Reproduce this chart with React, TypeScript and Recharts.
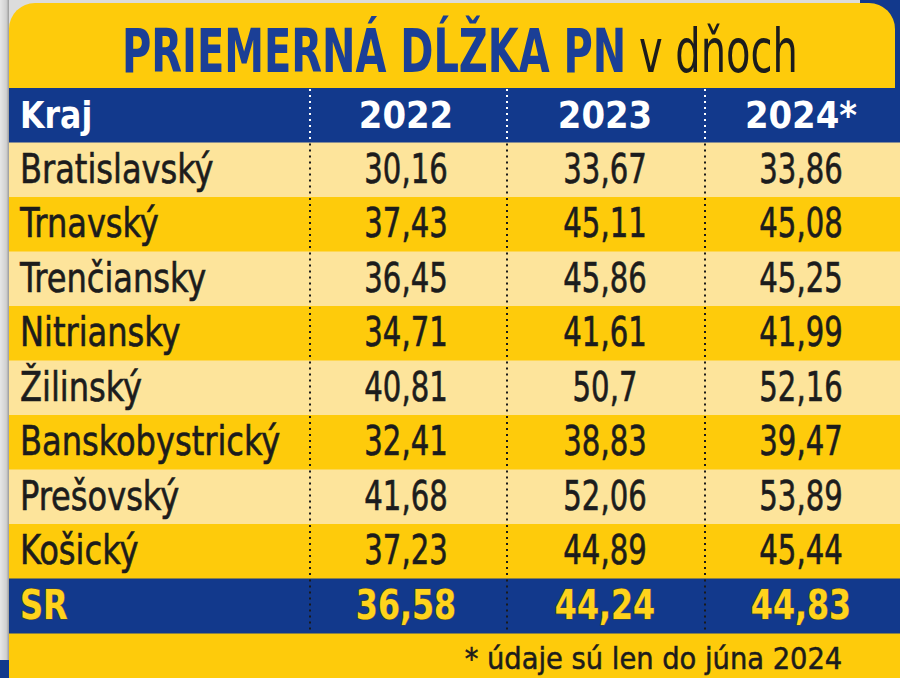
import { BarChart, Bar, XAxis, YAxis } from 'recharts'

const TITLE_BOLD = 'PRIEMERNÁ DĹŽKA PN'
const TITLE_REST = 'v dňoch'
const FOOTNOTE = '* údaje sú len do júna 2024'

const HEADERS = ['Kraj', '2022', '2023', '2024*']
const REGIONS = ['Bratislavský', 'Trnavský', 'Trenčiansky', 'Nitriansky', 'Žilinský', 'Banskobystrický', 'Prešovský', 'Košický', 'SR']
const Y2022 = [30.16, 37.43, 36.45, 34.71, 40.81, 32.41, 41.68, 37.23, 36.58]
const Y2023 = [33.67, 45.11, 45.86, 41.61, 50.7, 38.83, 52.06, 44.89, 44.24]
const Y2024 = [33.86, 45.08, 45.25, 41.99, 52.16, 39.47, 53.89, 45.44, 44.83]

const BLUE = '#12398c'
const YELLOW = '#fecb0b'
const LIGHT = '#fde49b'
const INK = '#1c1c1c'
const FONT = "'DejaVu Sans Condensed', 'Liberation Sans Narrow', Roboto, sans-serif"

const W = 900
const H = 678
const TOP = 88
const BOTTOM = 45
const ROW_H = (H - TOP - BOTTOM) / (REGIONS.length + 1)
const COL_X = [406, 605, 801]
const SEP_X = [310, 507, 705]

// per-row-kind text look: size, weight, horizontal squeeze for the name and the numbers
const LOOK: Record<string, { size: number; weight: number; nameSx: number; numSx: number; fill: string; stroke?: string; sw: number }> = {
  head: { size: 37, weight: 700, nameSx: 0.95, numSx: 1.02, fill: '#ffffff', sw: 0 },
  light: { size: 41, weight: 400, nameSx: 0.87, numSx: 0.79, fill: INK, stroke: INK, sw: 0.6 },
  dark: { size: 41, weight: 400, nameSx: 0.87, numSx: 0.79, fill: INK, stroke: INK, sw: 0.6 },
  total: { size: 41, weight: 700, nameSx: 0.87, numSx: 0.86, fill: '#ffd31c', stroke: '#4a4a2a', sw: 1.2 },
}

const fmt = (v: number) => String(v).replace('.', ',')

const rows = [
  { kraj: HEADERS[0], v2022: 0, cells: HEADERS.slice(1), kind: 'head' },
  ...REGIONS.map((r, i) => ({
    kraj: r,
    v2022: Y2022[i],
    cells: [fmt(Y2022[i]), fmt(Y2023[i]), fmt(Y2024[i])],
    kind: r === 'SR' ? 'total' : i % 2 === 0 ? 'light' : 'dark',
  })),
]

function Txt({ x, y, sx, anchor, children, look }: any) {
  return (
    <text
      transform={`translate(${x},${y}) scale(${sx},1)`}
      textAnchor={anchor}
      fill={look.fill}
      fontWeight={look.weight}
      fontSize={look.size}
      fontFamily={FONT}
      stroke={look.stroke}
      strokeWidth={look.sw}
      paintOrder="stroke"
    >
      {children}
    </text>
  )
}

function RowTick(props: any) {
  const { y, payload } = props
  const row = rows.find((r) => r.kraj === payload.value)
  if (!row) return <g />
  const top = y - ROW_H / 2
  const look = LOOK[row.kind]
  const bg = row.kind === 'head' || row.kind === 'total' ? BLUE : row.kind === 'light' ? LIGHT : YELLOW
  const base = y + 13
  return (
    <g>
      <rect x={9} y={top} width={W - 9} height={ROW_H + 0.5} fill={bg} />
      {SEP_X.map((sx) => (
        <line
          key={sx}
          x1={sx}
          x2={sx}
          y1={top + 1}
          y2={top + ROW_H}
          stroke={row.kind === 'head' ? '#ffffff' : '#1a1a1a'}
          strokeWidth={2}
          strokeDasharray="2 4"
        />
      ))}
      <Txt x={20} y={base} sx={look.nameSx} anchor="start" look={look}>
        {row.kraj}
      </Txt>
      {row.cells.map((c, i) => (
        <Txt key={i} x={COL_X[i]} y={base} sx={look.numSx} anchor="middle" look={look}>
          {c}
        </Txt>
      ))}
    </g>
  )
}

export default function App() {
  return (
    <div style={{ position: 'relative', width: W, height: H, overflow: 'hidden', background: '#dcdcdc' }}>
      <style>{'body{margin:0}'}</style>
      <div style={{ position: 'absolute', left: 0, top: 0, width: 9, height: H, background: 'linear-gradient(90deg, #e6e6e6, #d0d0d0 70%, #9a9a9a)' }} />
      <div style={{ position: 'absolute', left: 0, top: 660, width: 9, height: 18, background: BLUE }} />
      <div style={{ position: 'absolute', right: 0, top: 0, width: 40, height: 92, background: BLUE }} />
      <div style={{ position: 'absolute', left: 9, top: 3, width: 886, height: 200, background: YELLOW, borderRadius: '26px 26px 0 0' }} />
      <div style={{ position: 'absolute', left: 9, top: 150, width: W - 9, height: H - 150, background: YELLOW }} />
      <div
        style={{
          position: 'absolute',
          left: 122,
          top: 18,
          whiteSpace: 'nowrap',
          fontFamily: FONT,
          fontSize: 60,
          lineHeight: '66px',
          transform: 'scaleX(0.74)',
          transformOrigin: 'left top',
        }}
      >
        <span style={{ color: '#1b3f96', fontWeight: 700 }}>{TITLE_BOLD}</span>
        <span style={{ color: INK, fontWeight: 400 }}> {TITLE_REST}</span>
      </div>
      <div
        style={{
          position: 'absolute',
          right: 58,
          top: 640,
          whiteSpace: 'nowrap',
          fontFamily: FONT,
          fontSize: 31,
          lineHeight: '36px',
          color: INK,
          WebkitTextStroke: '0.5px ' + INK,
          transform: 'scaleX(0.98)',
          transformOrigin: 'right top',
        }}
      >
        {FOOTNOTE}
      </div>
      <div style={{ position: 'absolute', left: 0, top: 0, width: W, height: H }}>
        <BarChart width={W} height={H} data={rows} layout="vertical" barCategoryGap={0} margin={{ top: TOP, right: 0, bottom: BOTTOM, left: 0 }}>
          <XAxis type="number" hide domain={[0, 60]} />
          <YAxis
            type="category"
            dataKey="kraj"
            width={1}
            axisLine={false}
            tickLine={false}
            interval={0}
            tick={(p: any) => <RowTick {...p} />}
          />
          <Bar dataKey="v2022" fill="none" isAnimationActive={false} />
        </BarChart>
      </div>
    </div>
  )
}
